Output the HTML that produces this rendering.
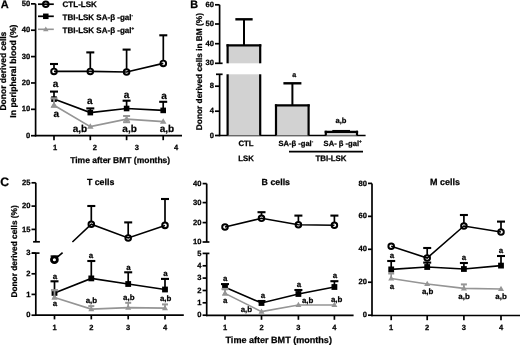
<!DOCTYPE html>
<html><head><meta charset="utf-8"><style>
html,body{margin:0;padding:0;background:#fff;width:520px;height:345px;overflow:hidden}
svg{display:block;font-family:"Liberation Sans", sans-serif;text-rendering:geometricPrecision;filter:blur(0.3px)}
text{stroke:#000;stroke-width:0.25px;paint-order:stroke}
</style></head><body>
<svg width="520" height="345" viewBox="0 0 520 345" fill="#000">
<text x="0.8" y="8.2" font-size="11" text-anchor="start" font-weight="bold" >A</text>
<line x1="35.6" y1="3.85" x2="35.6" y2="136.4" stroke="#000" stroke-width="1.7"/>
<line x1="34.85" y1="135.7" x2="182" y2="135.7" stroke="#000" stroke-width="1.7"/>
<line x1="31" y1="3.85" x2="35.6" y2="3.85" stroke="#000" stroke-width="1.7"/>
<text x="30.2" y="5.96" font-size="7.6" text-anchor="end" font-weight="bold" >50</text>
<line x1="31" y1="30.22" x2="35.6" y2="30.22" stroke="#000" stroke-width="1.7"/>
<text x="30.2" y="32.33" font-size="7.6" text-anchor="end" font-weight="bold" >40</text>
<line x1="31" y1="56.59" x2="35.6" y2="56.59" stroke="#000" stroke-width="1.7"/>
<text x="30.2" y="58.7" font-size="7.6" text-anchor="end" font-weight="bold" >30</text>
<line x1="31" y1="82.96" x2="35.6" y2="82.96" stroke="#000" stroke-width="1.7"/>
<text x="30.2" y="85.07" font-size="7.6" text-anchor="end" font-weight="bold" >20</text>
<line x1="31" y1="109.33" x2="35.6" y2="109.33" stroke="#000" stroke-width="1.7"/>
<text x="30.2" y="111.44" font-size="7.6" text-anchor="end" font-weight="bold" >10</text>
<line x1="31" y1="135.7" x2="35.6" y2="135.7" stroke="#000" stroke-width="1.7"/>
<text x="30.2" y="137.81" font-size="7.6" text-anchor="end" font-weight="bold" >0</text>
<line x1="54" y1="135.7" x2="54" y2="140.2" stroke="#000" stroke-width="1.7"/>
<line x1="90.3" y1="135.7" x2="90.3" y2="140.2" stroke="#000" stroke-width="1.7"/>
<line x1="126.6" y1="135.7" x2="126.6" y2="140.2" stroke="#000" stroke-width="1.7"/>
<line x1="163.2" y1="135.7" x2="163.2" y2="140.2" stroke="#000" stroke-width="1.7"/>
<text x="55.2" y="150.18" font-size="7.5" text-anchor="middle" font-weight="bold" >1</text>
<text x="94.8" y="150.18" font-size="7.5" text-anchor="middle" font-weight="bold" >2</text>
<text x="136.8" y="150.18" font-size="7.5" text-anchor="middle" font-weight="bold" >3</text>
<text x="176" y="150.18" font-size="7.5" text-anchor="middle" font-weight="bold" >4</text>
<text x="120.2" y="163.12" font-size="8.5" text-anchor="middle" font-weight="bold" >Time after BMT (months)</text>
<text transform="translate(6.1,71.1) rotate(-90)" font-size="8.5" font-weight="bold" text-anchor="middle">Donor derived cells</text>
<text transform="translate(15.9,71.1) rotate(-90)" font-size="8.6" font-weight="bold" text-anchor="middle">In peripheral blood (%)</text>
<line x1="38" y1="4.2" x2="53.8" y2="4.2" stroke="#000" stroke-width="1.7"/>
<circle cx="45.8" cy="4.2" r="2.8" fill="none" stroke="#000" stroke-width="1.95"/>
<line x1="38" y1="16.3" x2="53.8" y2="16.3" stroke="#000" stroke-width="1.7"/>
<rect x="43.05" y="13.55" width="5.5" height="5.5" fill="#000"/>
<line x1="38" y1="29.3" x2="53.8" y2="29.3" stroke="#959595" stroke-width="1.6"/>
<polygon points="45.8,26.429000000000002 43.05,31.214000000000002 48.55,31.214000000000002" fill="#959595"/>
<text x="62.6" y="6.85" font-size="8" text-anchor="start" font-weight="bold" >CTL-LSK</text>
<text x="62.6" y="20.25" font-size="8" text-anchor="start" font-weight="bold" >TBI-LSK SA-β -gal<tspan font-size="4.5" dy="-3">-</tspan></text>
<text x="62.6" y="33.35" font-size="8" text-anchor="start" font-weight="bold" >TBI-LSK SA-β -gal<tspan font-size="4.5" dy="-3">+</tspan></text>
<line x1="126.6" y1="119.1" x2="126.6" y2="116" stroke="#959595" stroke-width="1.6"/>
<line x1="123.1" y1="116" x2="130.1" y2="116" stroke="#959595" stroke-width="2.0"/>
<line x1="126.6" y1="119.1" x2="126.6" y2="122.2" stroke="#959595" stroke-width="1.6"/>
<line x1="123.1" y1="122.2" x2="130.1" y2="122.2" stroke="#959595" stroke-width="2.0"/>
<polyline points="54,105.3 90.3,126.6 126.6,119.1 163.2,121.6" fill="none" stroke="#959595" stroke-width="1.6" stroke-linejoin="miter"/>
<polygon points="54,101.907 50.75,107.562 57.25,107.562" fill="#959595"/>
<polygon points="90.3,123.207 87.05,128.862 93.55,128.862" fill="#959595"/>
<polygon points="126.6,115.707 123.35,121.362 129.85,121.362" fill="#959595"/>
<polygon points="163.2,118.207 159.95,123.862 166.45,123.862" fill="#959595"/>
<line x1="54" y1="99.1" x2="54" y2="91.6" stroke="#000" stroke-width="1.7"/>
<line x1="50.0" y1="91.6" x2="58.0" y2="91.6" stroke="#000" stroke-width="2.1"/>
<line x1="90.3" y1="112.6" x2="90.3" y2="108.4" stroke="#000" stroke-width="1.7"/>
<line x1="86.3" y1="108.4" x2="94.3" y2="108.4" stroke="#000" stroke-width="2.1"/>
<line x1="126.6" y1="108.5" x2="126.6" y2="100.7" stroke="#000" stroke-width="1.7"/>
<line x1="122.6" y1="100.7" x2="130.6" y2="100.7" stroke="#000" stroke-width="2.1"/>
<line x1="163.2" y1="110.4" x2="163.2" y2="101.8" stroke="#000" stroke-width="1.7"/>
<line x1="159.2" y1="101.8" x2="167.2" y2="101.8" stroke="#000" stroke-width="2.1"/>
<polyline points="54,99.1 90.3,112.6 126.6,108.5 163.2,110.4" fill="none" stroke="#000" stroke-width="1.6" stroke-linejoin="miter"/>
<rect x="51.2" y="96.3" width="5.6" height="5.6" fill="#000"/>
<rect x="87.5" y="109.8" width="5.6" height="5.6" fill="#000"/>
<rect x="123.8" y="105.7" width="5.6" height="5.6" fill="#000"/>
<rect x="160.39999999999998" y="107.60000000000001" width="5.6" height="5.6" fill="#000"/>
<line x1="54" y1="105.3" x2="54" y2="98.4" stroke="#959595" stroke-width="1.8"/>
<line x1="50.5" y1="98.4" x2="57.5" y2="98.4" stroke="#959595" stroke-width="2.2"/>
<polygon points="54,101.7504 50.6,107.6664 57.4,107.6664" fill="#959595"/>
<line x1="54" y1="68.4" x2="54" y2="64" stroke="#000" stroke-width="1.7"/>
<line x1="50.0" y1="64" x2="58.0" y2="64" stroke="#000" stroke-width="2.1"/>
<line x1="90.3" y1="68.4" x2="90.3" y2="52.4" stroke="#000" stroke-width="1.7"/>
<line x1="86.3" y1="52.4" x2="94.3" y2="52.4" stroke="#000" stroke-width="2.1"/>
<line x1="126.6" y1="69" x2="126.6" y2="49.6" stroke="#000" stroke-width="1.7"/>
<line x1="122.6" y1="49.6" x2="130.6" y2="49.6" stroke="#000" stroke-width="2.1"/>
<line x1="163.3" y1="60.4" x2="163.3" y2="35.3" stroke="#000" stroke-width="1.7"/>
<line x1="159.3" y1="35.3" x2="167.3" y2="35.3" stroke="#000" stroke-width="2.1"/>
<polyline points="54,71.4 90.3,71.4 126.6,72 163.3,63.4" fill="none" stroke="#000" stroke-width="1.6" stroke-linejoin="miter"/>
<circle cx="54" cy="71.4" r="2.8" fill="none" stroke="#000" stroke-width="1.95"/>
<circle cx="90.3" cy="71.4" r="2.8" fill="none" stroke="#000" stroke-width="1.95"/>
<circle cx="126.6" cy="72" r="2.8" fill="none" stroke="#000" stroke-width="1.95"/>
<circle cx="163.3" cy="63.4" r="2.8" fill="none" stroke="#000" stroke-width="1.95"/>
<text x="55.6" y="87.24" font-size="10" text-anchor="middle" font-weight="bold" >a</text>
<text x="56.3" y="117.14" font-size="10" text-anchor="middle" font-weight="bold" >a</text>
<text x="89.8" y="103.54" font-size="10" text-anchor="middle" font-weight="bold" >a</text>
<text x="126.6" y="98.24" font-size="10" text-anchor="middle" font-weight="bold" >a</text>
<text x="164" y="99.34" font-size="10" text-anchor="middle" font-weight="bold" >a</text>
<text x="80" y="131.94" font-size="10" text-anchor="middle" font-weight="bold" >a,b</text>
<text x="129.6" y="131.94" font-size="10" text-anchor="middle" font-weight="bold" >a,b</text>
<text x="167" y="131.94" font-size="10" text-anchor="middle" font-weight="bold" >a,b</text>
<text x="190.2" y="8.2" font-size="10.8" text-anchor="start" font-weight="bold" >B</text>
<line x1="219.6" y1="4.8" x2="219.6" y2="63.3" stroke="#000" stroke-width="1.7"/>
<line x1="219.6" y1="74.3" x2="219.6" y2="136.2" stroke="#000" stroke-width="1.7"/>
<line x1="215" y1="63.3" x2="222.6" y2="63.3" stroke="#000" stroke-width="1.7"/>
<line x1="216" y1="74.3" x2="222.6" y2="74.3" stroke="#000" stroke-width="1.7"/>
<line x1="218.85" y1="135.5" x2="365.6" y2="135.5" stroke="#000" stroke-width="1.7"/>
<line x1="215" y1="4.8" x2="219.6" y2="4.8" stroke="#000" stroke-width="1.7"/>
<text x="214" y="6.91" font-size="7.6" text-anchor="end" font-weight="bold" >60</text>
<line x1="215" y1="24.0" x2="219.6" y2="24.0" stroke="#000" stroke-width="1.7"/>
<text x="214" y="26.11" font-size="7.6" text-anchor="end" font-weight="bold" >50</text>
<line x1="215" y1="43.7" x2="219.6" y2="43.7" stroke="#000" stroke-width="1.7"/>
<text x="214" y="45.81" font-size="7.6" text-anchor="end" font-weight="bold" >40</text>
<text x="214" y="65.41" font-size="7.6" text-anchor="end" font-weight="bold" >30</text>
<line x1="215" y1="86.2" x2="219.6" y2="86.2" stroke="#000" stroke-width="1.7"/>
<text x="214" y="88.31" font-size="7.6" text-anchor="end" font-weight="bold" >8</text>
<line x1="215" y1="111.2" x2="219.6" y2="111.2" stroke="#000" stroke-width="1.7"/>
<text x="214" y="113.31" font-size="7.6" text-anchor="end" font-weight="bold" >4</text>
<line x1="215" y1="135.5" x2="219.6" y2="135.5" stroke="#000" stroke-width="1.7"/>
<text x="214" y="137.61" font-size="7.6" text-anchor="end" font-weight="bold" >0</text>
<line x1="244" y1="45.3" x2="244" y2="19.3" stroke="#000" stroke-width="2"/>
<line x1="235.35" y1="19.3" x2="252.65" y2="19.3" stroke="#000" stroke-width="2.4"/>
<rect x="227.6" y="45.3" width="32.599999999999994" height="18.0" fill="#d2d2d2"/>
<line x1="227.6" y1="44.25" x2="227.6" y2="63.3" stroke="#000" stroke-width="2.2"/>
<line x1="260.2" y1="44.25" x2="260.2" y2="63.3" stroke="#000" stroke-width="2.2"/>
<line x1="226.5" y1="45.3" x2="261.3" y2="45.3" stroke="#000" stroke-width="2.2"/>
<rect x="227.6" y="74.3" width="32.599999999999994" height="61.2" fill="#d2d2d2"/>
<line x1="227.6" y1="74.3" x2="227.6" y2="135.5" stroke="#000" stroke-width="2.2"/>
<line x1="260.2" y1="74.3" x2="260.2" y2="135.5" stroke="#000" stroke-width="2.2"/>
<line x1="292.4" y1="105.3" x2="292.4" y2="83.3" stroke="#000" stroke-width="2"/>
<line x1="283.4" y1="83.3" x2="301.4" y2="83.3" stroke="#000" stroke-width="2.4"/>
<rect x="276" y="105.4" width="32.60000000000002" height="30.099999999999994" fill="#d2d2d2"/>
<line x1="276" y1="104.35000000000001" x2="276" y2="135.5" stroke="#000" stroke-width="2.2"/>
<line x1="308.6" y1="104.35000000000001" x2="308.6" y2="135.5" stroke="#000" stroke-width="2.2"/>
<line x1="274.9" y1="105.4" x2="309.70000000000005" y2="105.4" stroke="#000" stroke-width="2.2"/>
<line x1="332.3" y1="130.7" x2="350" y2="130.7" stroke="#000" stroke-width="1.5"/>
<rect x="325.8" y="131.8" width="31.19999999999999" height="3.6999999999999886" fill="#d2d2d2"/>
<line x1="325.8" y1="130.75" x2="325.8" y2="135.5" stroke="#000" stroke-width="2.2"/>
<line x1="357" y1="130.75" x2="357" y2="135.5" stroke="#000" stroke-width="2.2"/>
<line x1="324.7" y1="131.8" x2="358.1" y2="131.8" stroke="#000" stroke-width="2.2"/>
<text x="294.2" y="77.35" font-size="7" text-anchor="middle" font-weight="bold" >a</text>
<text x="341" y="123.41" font-size="7.6" text-anchor="middle" font-weight="bold" >a,b</text>
<text x="246" y="146.28" font-size="7.8" text-anchor="middle" font-weight="bold" >CTL</text>
<text x="246" y="160.78" font-size="7.8" text-anchor="middle" font-weight="bold" >LSK</text>
<text x="278.4" y="146.21" font-size="7.6" text-anchor="start" font-weight="bold" >SA-β -gal<tspan font-size="4.5" dy="-3">-</tspan></text>
<text x="323.6" y="146.21" font-size="7.6" text-anchor="start" font-weight="bold" >SA- β -gal<tspan font-size="4.5" dy="-3">+</tspan></text>
<line x1="289" y1="151.6" x2="363" y2="151.6" stroke="#000" stroke-width="1.7"/>
<text x="331" y="161.32" font-size="7.9" text-anchor="middle" font-weight="bold" >TBI-LSK</text>
<text transform="translate(202.3,71.6) rotate(-90)" font-size="8.3" font-weight="bold" text-anchor="middle">Donor derived cells in BM (%)</text>
<text x="0.3" y="185.6" font-size="12.3" text-anchor="start" font-weight="bold" >C</text>
<text transform="translate(16.7,251.4) rotate(-90)" font-size="8.3" font-weight="bold" text-anchor="middle">Donor derived cells (%)</text>
<line x1="35.8" y1="182.8" x2="35.8" y2="241.8" stroke="#000" stroke-width="1.7"/>
<line x1="33.1" y1="241.8" x2="39.9" y2="241.8" stroke="#000" stroke-width="1.7"/>
<line x1="35.8" y1="253.1" x2="35.8" y2="315.9" stroke="#000" stroke-width="1.7"/>
<line x1="32" y1="253.1" x2="39.5" y2="253.1" stroke="#000" stroke-width="1.7"/>
<line x1="35.05" y1="315.2" x2="183.8" y2="315.2" stroke="#000" stroke-width="1.7"/>
<line x1="31.5" y1="182.8" x2="35.8" y2="182.8" stroke="#000" stroke-width="1.7"/>
<text x="30.5" y="184.91" font-size="7.6" text-anchor="end" font-weight="bold" >25</text>
<line x1="31.5" y1="206.1" x2="35.8" y2="206.1" stroke="#000" stroke-width="1.7"/>
<text x="30.5" y="208.21" font-size="7.6" text-anchor="end" font-weight="bold" >20</text>
<line x1="31.5" y1="229.4" x2="35.8" y2="229.4" stroke="#000" stroke-width="1.7"/>
<text x="30.5" y="231.51" font-size="7.6" text-anchor="end" font-weight="bold" >15</text>
<line x1="31.5" y1="253.1" x2="35.8" y2="253.1" stroke="#000" stroke-width="1.7"/>
<text x="30.5" y="255.21" font-size="7.6" text-anchor="end" font-weight="bold" >3</text>
<line x1="31.5" y1="273.8" x2="35.8" y2="273.8" stroke="#000" stroke-width="1.7"/>
<text x="30.5" y="275.91" font-size="7.6" text-anchor="end" font-weight="bold" >2</text>
<line x1="31.5" y1="294.4" x2="35.8" y2="294.4" stroke="#000" stroke-width="1.7"/>
<text x="30.5" y="296.51" font-size="7.6" text-anchor="end" font-weight="bold" >1</text>
<line x1="31.5" y1="315.2" x2="35.8" y2="315.2" stroke="#000" stroke-width="1.7"/>
<text x="30.5" y="317.31" font-size="7.6" text-anchor="end" font-weight="bold" >0</text>
<line x1="54.5" y1="315.2" x2="54.5" y2="319.4" stroke="#000" stroke-width="1.7"/>
<text x="54.5" y="330.18" font-size="7.5" text-anchor="middle" font-weight="bold" >1</text>
<line x1="91.3" y1="315.2" x2="91.3" y2="319.4" stroke="#000" stroke-width="1.7"/>
<text x="91.3" y="330.18" font-size="7.5" text-anchor="middle" font-weight="bold" >2</text>
<line x1="128.2" y1="315.2" x2="128.2" y2="319.4" stroke="#000" stroke-width="1.7"/>
<text x="128.2" y="330.18" font-size="7.5" text-anchor="middle" font-weight="bold" >3</text>
<line x1="165" y1="315.2" x2="165" y2="319.4" stroke="#000" stroke-width="1.7"/>
<text x="165" y="330.18" font-size="7.5" text-anchor="middle" font-weight="bold" >4</text>
<text x="100.6" y="184.53" font-size="8.8" text-anchor="middle" font-weight="bold" >T cells</text>
<line x1="91.3" y1="309.1" x2="91.3" y2="306.1" stroke="#959595" stroke-width="1.6"/>
<line x1="88.3" y1="306.1" x2="94.3" y2="306.1" stroke="#959595" stroke-width="2.0"/>
<line x1="128.2" y1="307.6" x2="128.2" y2="302.8" stroke="#959595" stroke-width="1.6"/>
<line x1="125.19999999999999" y1="302.8" x2="131.2" y2="302.8" stroke="#959595" stroke-width="2.0"/>
<line x1="165" y1="308.1" x2="165" y2="304.4" stroke="#959595" stroke-width="1.6"/>
<line x1="162.0" y1="304.4" x2="168.0" y2="304.4" stroke="#959595" stroke-width="2.0"/>
<polyline points="54.5,297.4 91.3,309.1 128.2,307.6 165,308.1" fill="none" stroke="#959595" stroke-width="1.6" stroke-linejoin="miter"/>
<polygon points="54.5,294.268 51.5,299.488 57.5,299.488" fill="#959595"/>
<polygon points="91.3,305.968 88.3,311.18800000000005 94.3,311.18800000000005" fill="#959595"/>
<polygon points="128.2,304.468 125.19999999999999,309.68800000000005 131.2,309.68800000000005" fill="#959595"/>
<polygon points="165,304.968 162.0,310.18800000000005 168.0,310.18800000000005" fill="#959595"/>
<line x1="54.5" y1="292.9" x2="54.5" y2="281.3" stroke="#000" stroke-width="1.7"/>
<line x1="50.5" y1="281.3" x2="58.5" y2="281.3" stroke="#000" stroke-width="2.1"/>
<line x1="91.3" y1="278.4" x2="91.3" y2="261" stroke="#000" stroke-width="1.7"/>
<line x1="87.3" y1="261" x2="95.3" y2="261" stroke="#000" stroke-width="2.1"/>
<line x1="128.2" y1="284" x2="128.2" y2="272.3" stroke="#000" stroke-width="1.7"/>
<line x1="124.19999999999999" y1="272.3" x2="132.2" y2="272.3" stroke="#000" stroke-width="2.1"/>
<line x1="165" y1="289.5" x2="165" y2="278.9" stroke="#000" stroke-width="1.7"/>
<line x1="161.0" y1="278.9" x2="169.0" y2="278.9" stroke="#000" stroke-width="2.1"/>
<polyline points="54.5,292.9 91.3,278.4 128.2,284 165,289.5" fill="none" stroke="#000" stroke-width="1.6" stroke-linejoin="miter"/>
<rect x="51.6" y="290.0" width="5.8" height="5.8" fill="#000"/>
<rect x="88.39999999999999" y="275.5" width="5.8" height="5.8" fill="#000"/>
<rect x="125.29999999999998" y="281.1" width="5.8" height="5.8" fill="#000"/>
<rect x="162.1" y="286.6" width="5.8" height="5.8" fill="#000"/>
<line x1="54.5" y1="297.4" x2="54.5" y2="290.2" stroke="#959595" stroke-width="1.8"/>
<line x1="51.0" y1="290.2" x2="58.0" y2="290.2" stroke="#959595" stroke-width="2.2"/>
<polygon points="54.5,294.268 51.5,299.488 57.5,299.488" fill="#959595"/>
<line x1="91.3" y1="221.2" x2="91.3" y2="206" stroke="#000" stroke-width="1.7"/>
<line x1="87.3" y1="206" x2="95.3" y2="206" stroke="#000" stroke-width="2.1"/>
<line x1="128.2" y1="235" x2="128.2" y2="222.4" stroke="#000" stroke-width="1.7"/>
<line x1="124.19999999999999" y1="222.4" x2="132.2" y2="222.4" stroke="#000" stroke-width="2.1"/>
<line x1="165" y1="222.4" x2="165" y2="199" stroke="#000" stroke-width="1.7"/>
<line x1="161.0" y1="199" x2="169.0" y2="199" stroke="#000" stroke-width="2.1"/>
<polyline points="72.4,242 91.3,224.2 128.2,238 165,225.4" fill="none" stroke="#000" stroke-width="1.6" stroke-linejoin="miter"/>
<circle cx="91.3" cy="224.2" r="2.8" fill="none" stroke="#000" stroke-width="1.95"/>
<circle cx="128.2" cy="238" r="2.8" fill="none" stroke="#000" stroke-width="1.95"/>
<circle cx="165" cy="225.4" r="2.8" fill="none" stroke="#000" stroke-width="1.95"/>
<line x1="54.4" y1="259.6" x2="62.6" y2="252.6" stroke="#000" stroke-width="1.6"/>
<clipPath id="cT"><rect x="40" y="255.4" width="30" height="20"/></clipPath>
<g clip-path="url(#cT)"><circle cx="54.4" cy="259.7" r="2.95" fill="#fff" stroke="#000" stroke-width="2.8"/></g>
<line x1="50.6" y1="256.1" x2="58.6" y2="256.1" stroke="#000" stroke-width="1.5"/>
<text x="55" y="278.89" font-size="7.9" text-anchor="middle" font-weight="bold" >a</text>
<text x="55" y="306.39" font-size="7.9" text-anchor="middle" font-weight="bold" >a</text>
<text x="91" y="258.09" font-size="7.9" text-anchor="middle" font-weight="bold" >a</text>
<text x="128.5" y="270.49" font-size="7.9" text-anchor="middle" font-weight="bold" >a</text>
<text x="165.5" y="276.49" font-size="7.9" text-anchor="middle" font-weight="bold" >a</text>
<text x="91.4" y="303.49" font-size="7.9" text-anchor="middle" font-weight="bold" >a,b</text>
<text x="128.8" y="299.99" font-size="7.9" text-anchor="middle" font-weight="bold" >a,b</text>
<text x="165.7" y="301.49" font-size="7.9" text-anchor="middle" font-weight="bold" >a,b</text>
<line x1="206.7" y1="183.6" x2="206.7" y2="242" stroke="#000" stroke-width="1.7"/>
<line x1="202.6" y1="242" x2="209.4" y2="242" stroke="#000" stroke-width="1.7"/>
<line x1="206.7" y1="253.4" x2="206.7" y2="316.2" stroke="#000" stroke-width="1.7"/>
<line x1="202.6" y1="253.4" x2="209.4" y2="253.4" stroke="#000" stroke-width="1.7"/>
<line x1="205.95" y1="315.4" x2="353.6" y2="315.4" stroke="#000" stroke-width="1.7"/>
<line x1="202.6" y1="183.6" x2="206.7" y2="183.6" stroke="#000" stroke-width="1.7"/>
<text x="201.5" y="185.71" font-size="7.6" text-anchor="end" font-weight="bold" >40</text>
<line x1="202.6" y1="202.6" x2="206.7" y2="202.6" stroke="#000" stroke-width="1.7"/>
<text x="201.5" y="204.71" font-size="7.6" text-anchor="end" font-weight="bold" >30</text>
<line x1="202.6" y1="222.6" x2="206.7" y2="222.6" stroke="#000" stroke-width="1.7"/>
<text x="201.5" y="224.71" font-size="7.6" text-anchor="end" font-weight="bold" >20</text>
<text x="201.5" y="244.11" font-size="7.6" text-anchor="end" font-weight="bold" >10</text>
<text x="201.5" y="255.51" font-size="7.6" text-anchor="end" font-weight="bold" >5</text>
<line x1="202.6" y1="265.8" x2="206.7" y2="265.8" stroke="#000" stroke-width="1.7"/>
<text x="201.5" y="267.91" font-size="7.6" text-anchor="end" font-weight="bold" >4</text>
<line x1="202.6" y1="278.1" x2="206.7" y2="278.1" stroke="#000" stroke-width="1.7"/>
<text x="201.5" y="280.21" font-size="7.6" text-anchor="end" font-weight="bold" >3</text>
<line x1="202.6" y1="290.5" x2="206.7" y2="290.5" stroke="#000" stroke-width="1.7"/>
<text x="201.5" y="292.61" font-size="7.6" text-anchor="end" font-weight="bold" >2</text>
<line x1="202.6" y1="302.8" x2="206.7" y2="302.8" stroke="#000" stroke-width="1.7"/>
<text x="201.5" y="304.91" font-size="7.6" text-anchor="end" font-weight="bold" >1</text>
<line x1="202.6" y1="315.2" x2="206.7" y2="315.2" stroke="#000" stroke-width="1.7"/>
<text x="201.5" y="317.31" font-size="7.6" text-anchor="end" font-weight="bold" >0</text>
<line x1="225" y1="315.4" x2="225" y2="319.8" stroke="#000" stroke-width="1.7"/>
<text x="225" y="330.18" font-size="7.5" text-anchor="middle" font-weight="bold" >1</text>
<line x1="261.5" y1="315.4" x2="261.5" y2="319.8" stroke="#000" stroke-width="1.7"/>
<text x="261.5" y="330.18" font-size="7.5" text-anchor="middle" font-weight="bold" >2</text>
<line x1="298.4" y1="315.4" x2="298.4" y2="319.8" stroke="#000" stroke-width="1.7"/>
<text x="298.4" y="330.18" font-size="7.5" text-anchor="middle" font-weight="bold" >3</text>
<line x1="334.4" y1="315.4" x2="334.4" y2="319.8" stroke="#000" stroke-width="1.7"/>
<text x="334.4" y="330.18" font-size="7.5" text-anchor="middle" font-weight="bold" >4</text>
<text x="275.8" y="184.53" font-size="8.8" text-anchor="middle" font-weight="bold" >B cells</text>
<text x="278.7" y="342.51" font-size="9.05" text-anchor="middle" font-weight="bold" >Time after BMT (months)</text>
<polyline points="225,293.4 261.5,311.6 298.4,305 334.4,305" fill="none" stroke="#959595" stroke-width="1.6" stroke-linejoin="miter"/>
<polygon points="225,290.268 222.0,295.488 228.0,295.488" fill="#959595"/>
<polygon points="261.5,308.468 258.5,313.68800000000005 264.5,313.68800000000005" fill="#959595"/>
<polygon points="298.4,301.868 295.4,307.088 301.4,307.088" fill="#959595"/>
<polygon points="334.4,301.868 331.4,307.088 337.4,307.088" fill="#959595"/>
<line x1="225" y1="287.2" x2="225" y2="284.1" stroke="#000" stroke-width="1.7"/>
<line x1="221.0" y1="284.1" x2="229.0" y2="284.1" stroke="#000" stroke-width="2.1"/>
<line x1="261.5" y1="303" x2="261.5" y2="301" stroke="#000" stroke-width="1.7"/>
<line x1="257.5" y1="301" x2="265.5" y2="301" stroke="#000" stroke-width="2.1"/>
<line x1="298.4" y1="294" x2="298.4" y2="290" stroke="#000" stroke-width="1.7"/>
<line x1="294.4" y1="290" x2="302.4" y2="290" stroke="#000" stroke-width="2.1"/>
<line x1="334.4" y1="287" x2="334.4" y2="281.2" stroke="#000" stroke-width="1.7"/>
<line x1="330.4" y1="281.2" x2="338.4" y2="281.2" stroke="#000" stroke-width="2.1"/>
<polyline points="225,287.2 261.5,303 298.4,294 334.4,287" fill="none" stroke="#000" stroke-width="1.6" stroke-linejoin="miter"/>
<rect x="222.1" y="284.3" width="5.8" height="5.8" fill="#000"/>
<rect x="258.6" y="300.1" width="5.8" height="5.8" fill="#000"/>
<rect x="295.5" y="291.1" width="5.8" height="5.8" fill="#000"/>
<rect x="331.5" y="284.1" width="5.8" height="5.8" fill="#000"/>
<line x1="225" y1="293.4" x2="225" y2="289" stroke="#959595" stroke-width="1.8"/>
<line x1="221.5" y1="289" x2="228.5" y2="289" stroke="#959595" stroke-width="2.2"/>
<polygon points="225,290.268 222.0,295.488 228.0,295.488" fill="#959595"/>
<line x1="261.5" y1="215.3" x2="261.5" y2="212.2" stroke="#000" stroke-width="1.7"/>
<line x1="257.5" y1="212.2" x2="265.5" y2="212.2" stroke="#000" stroke-width="2.1"/>
<line x1="298.4" y1="221.7" x2="298.4" y2="215.6" stroke="#000" stroke-width="1.7"/>
<line x1="294.4" y1="215.6" x2="302.4" y2="215.6" stroke="#000" stroke-width="2.1"/>
<line x1="334.4" y1="222.2" x2="334.4" y2="215.6" stroke="#000" stroke-width="1.7"/>
<line x1="330.4" y1="215.6" x2="338.4" y2="215.6" stroke="#000" stroke-width="2.1"/>
<polyline points="225,227 261.5,218.3 298.4,224.7 334.4,225.2" fill="none" stroke="#000" stroke-width="1.6" stroke-linejoin="miter"/>
<circle cx="225" cy="227" r="2.8" fill="none" stroke="#000" stroke-width="1.95"/>
<circle cx="261.5" cy="218.3" r="2.8" fill="none" stroke="#000" stroke-width="1.95"/>
<circle cx="298.4" cy="224.7" r="2.8" fill="none" stroke="#000" stroke-width="1.95"/>
<circle cx="334.4" cy="225.2" r="2.8" fill="none" stroke="#000" stroke-width="1.95"/>
<text x="225.2" y="281.39" font-size="7.9" text-anchor="middle" font-weight="bold" >a</text>
<text x="225.2" y="302.99" font-size="7.9" text-anchor="middle" font-weight="bold" >a</text>
<text x="263" y="297.69" font-size="7.9" text-anchor="middle" font-weight="bold" >a</text>
<text x="299" y="287.09" font-size="7.9" text-anchor="middle" font-weight="bold" >a</text>
<text x="335" y="277.99" font-size="7.9" text-anchor="middle" font-weight="bold" >a</text>
<text x="246.4" y="312.49" font-size="7.9" text-anchor="middle" font-weight="bold" >a,b</text>
<text x="307.6" y="303.09" font-size="7.9" text-anchor="middle" font-weight="bold" >a,b</text>
<text x="336.7" y="301.79" font-size="7.9" text-anchor="middle" font-weight="bold" >a,b</text>
<line x1="372" y1="183.4" x2="372" y2="316.3" stroke="#000" stroke-width="1.7"/>
<line x1="371.25" y1="315.5" x2="520" y2="315.5" stroke="#000" stroke-width="1.7"/>
<line x1="368" y1="183.4" x2="372" y2="183.4" stroke="#000" stroke-width="1.7"/>
<text x="367" y="185.51" font-size="7.6" text-anchor="end" font-weight="bold" >80</text>
<line x1="368" y1="216.35" x2="372" y2="216.35" stroke="#000" stroke-width="1.7"/>
<text x="367" y="218.46" font-size="7.6" text-anchor="end" font-weight="bold" >60</text>
<line x1="368" y1="249.3" x2="372" y2="249.3" stroke="#000" stroke-width="1.7"/>
<text x="367" y="251.41" font-size="7.6" text-anchor="end" font-weight="bold" >40</text>
<line x1="368" y1="282.25" x2="372" y2="282.25" stroke="#000" stroke-width="1.7"/>
<text x="367" y="284.36" font-size="7.6" text-anchor="end" font-weight="bold" >20</text>
<line x1="368" y1="315.2" x2="372" y2="315.2" stroke="#000" stroke-width="1.7"/>
<text x="367" y="317.31" font-size="7.6" text-anchor="end" font-weight="bold" >0</text>
<line x1="391.2" y1="315.5" x2="391.2" y2="320.2" stroke="#000" stroke-width="1.7"/>
<text x="391.2" y="330.18" font-size="7.5" text-anchor="middle" font-weight="bold" >1</text>
<line x1="427.2" y1="315.5" x2="427.2" y2="320.2" stroke="#000" stroke-width="1.7"/>
<text x="427.2" y="330.18" font-size="7.5" text-anchor="middle" font-weight="bold" >2</text>
<line x1="463.9" y1="315.5" x2="463.9" y2="320.2" stroke="#000" stroke-width="1.7"/>
<text x="463.9" y="330.18" font-size="7.5" text-anchor="middle" font-weight="bold" >3</text>
<line x1="501" y1="315.5" x2="501" y2="320.2" stroke="#000" stroke-width="1.7"/>
<text x="501" y="330.18" font-size="7.5" text-anchor="middle" font-weight="bold" >4</text>
<text x="445" y="184.6" font-size="9.0" text-anchor="middle" font-weight="bold" >M cells</text>
<line x1="391.2" y1="278.5" x2="391.2" y2="273.5" stroke="#959595" stroke-width="1.6"/>
<line x1="388.2" y1="273.5" x2="394.2" y2="273.5" stroke="#959595" stroke-width="2.0"/>
<line x1="463.9" y1="288.4" x2="463.9" y2="284.4" stroke="#959595" stroke-width="1.6"/>
<line x1="460.9" y1="284.4" x2="466.9" y2="284.4" stroke="#959595" stroke-width="2.0"/>
<polyline points="391.2,278.5 427.2,284 463.9,288.4 501,289" fill="none" stroke="#959595" stroke-width="1.6" stroke-linejoin="miter"/>
<polygon points="391.2,275.368 388.2,280.588 394.2,280.588" fill="#959595"/>
<polygon points="427.2,280.868 424.2,286.088 430.2,286.088" fill="#959595"/>
<polygon points="463.9,285.268 460.9,290.488 466.9,290.488" fill="#959595"/>
<polygon points="501,285.868 498.0,291.088 504.0,291.088" fill="#959595"/>
<line x1="391.2" y1="269.4" x2="391.2" y2="261" stroke="#000" stroke-width="1.7"/>
<line x1="387.2" y1="261" x2="395.2" y2="261" stroke="#000" stroke-width="2.1"/>
<line x1="427.2" y1="267" x2="427.2" y2="262.6" stroke="#000" stroke-width="1.7"/>
<line x1="423.2" y1="262.6" x2="431.2" y2="262.6" stroke="#000" stroke-width="2.1"/>
<line x1="463.9" y1="269" x2="463.9" y2="263" stroke="#000" stroke-width="1.7"/>
<line x1="459.9" y1="263" x2="467.9" y2="263" stroke="#000" stroke-width="2.1"/>
<line x1="501" y1="265.6" x2="501" y2="256" stroke="#000" stroke-width="1.7"/>
<line x1="497.0" y1="256" x2="505.0" y2="256" stroke="#000" stroke-width="2.1"/>
<polyline points="391.2,269.4 427.2,267 463.9,269 501,265.6" fill="none" stroke="#000" stroke-width="1.6" stroke-linejoin="miter"/>
<rect x="388.3" y="266.5" width="5.8" height="5.8" fill="#000"/>
<rect x="424.3" y="264.1" width="5.8" height="5.8" fill="#000"/>
<rect x="461.0" y="266.1" width="5.8" height="5.8" fill="#000"/>
<rect x="498.1" y="262.70000000000005" width="5.8" height="5.8" fill="#000"/>
<line x1="427.2" y1="255" x2="427.2" y2="248" stroke="#000" stroke-width="1.7"/>
<line x1="423.2" y1="248" x2="431.2" y2="248" stroke="#000" stroke-width="2.1"/>
<line x1="463.9" y1="223" x2="463.9" y2="215" stroke="#000" stroke-width="1.7"/>
<line x1="459.9" y1="215" x2="467.9" y2="215" stroke="#000" stroke-width="2.1"/>
<line x1="501" y1="229" x2="501" y2="221.6" stroke="#000" stroke-width="1.7"/>
<line x1="497.0" y1="221.6" x2="505.0" y2="221.6" stroke="#000" stroke-width="2.1"/>
<polyline points="391.2,246.2 427.2,258 463.9,226 501,232" fill="none" stroke="#000" stroke-width="1.6" stroke-linejoin="miter"/>
<circle cx="391.2" cy="246.2" r="2.8" fill="none" stroke="#000" stroke-width="1.95"/>
<circle cx="427.2" cy="258" r="2.8" fill="none" stroke="#000" stroke-width="1.95"/>
<circle cx="463.9" cy="226" r="2.8" fill="none" stroke="#000" stroke-width="1.95"/>
<circle cx="501" cy="232" r="2.8" fill="none" stroke="#000" stroke-width="1.95"/>
<text x="392" y="258.09" font-size="7.9" text-anchor="middle" font-weight="bold" >a</text>
<text x="392" y="289.39" font-size="7.9" text-anchor="middle" font-weight="bold" >a</text>
<text x="464" y="260.09" font-size="7.9" text-anchor="middle" font-weight="bold" >a</text>
<text x="501" y="253.09" font-size="7.9" text-anchor="middle" font-weight="bold" >a</text>
<text x="427.6" y="294.49" font-size="7.9" text-anchor="middle" font-weight="bold" >a,b</text>
<text x="464" y="299.09" font-size="7.9" text-anchor="middle" font-weight="bold" >a,b</text>
<text x="501" y="299.09" font-size="7.9" text-anchor="middle" font-weight="bold" >a,b</text>
</svg>
</body></html>
